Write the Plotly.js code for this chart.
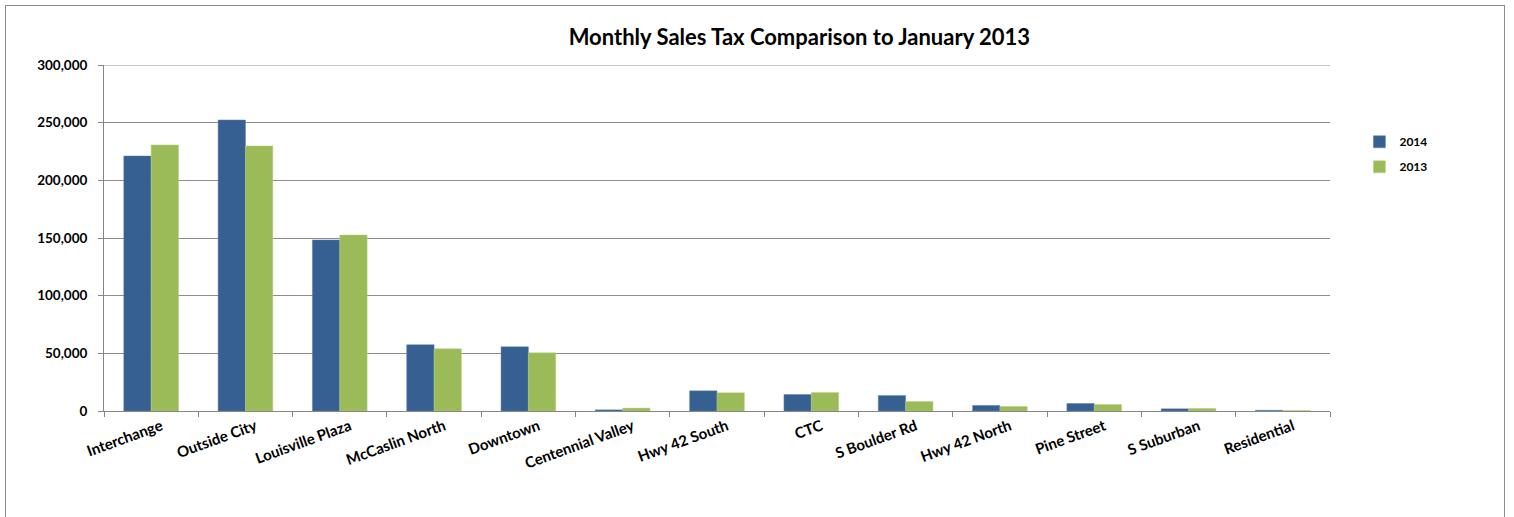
<!DOCTYPE html>
<html>
<head>
<meta charset="utf-8">
<script src="https://cdn.plot.ly/plotly-3.0.1.min.js"></script>
<style>
html,body{margin:0;padding:0;background:#fff;}
#wrap{position:relative;width:1514px;height:517px;overflow:hidden;}
#frame{position:absolute;left:5px;top:5px;width:1498px;height:530px;border:1px solid #8c8c8c;pointer-events:none;}
#chart{position:absolute;left:0;top:0;width:1514px;height:517px;}
</style>
</head>
<body>
<div id="wrap"><div id="chart"></div><div id="frame"></div></div>
<script>
var categories = ["Interchange","Outside City","Louisville Plaza","McCaslin North","Downtown","Centennial Valley","Hwy 42 South","CTC","S Boulder Rd","Hwy 42 North","Pine Street","S Suburban","Residential"];
var sales2014 = [221100, 252300, 148300, 57400, 55600, 1000, 17500, 14300, 13400, 4800, 6500, 1900, 600];
var sales2013 = [230600, 229800, 152600, 54000, 50400, 2500, 15800, 16000, 8200, 3900, 5600, 2200, 400];
var yTicks = [0, 50000, 100000, 150000, 200000, 250000, 300000];
var yTickLabels = ["0","50,000","100,000","150,000","200,000","250,000","300,000"];

var fontFam = "Lato, 'Open Sans', sans-serif";
var traces = [
  {type:"bar", name:"2014", legendgroup:"a", x:categories, y:sales2014, marker:{color:"#376092", line:{color:"#5b7fae", width:0.5}}},
  {type:"bar", name:"2013", legendgroup:"b", x:categories, y:sales2013, marker:{color:"#9bbb59", line:{color:"#b5d07f", width:0.5}}}
];
var yMax = yTicks[yTicks.length-1];
var layout = {
  width:1514, height:517,
  margin:{l:104, r:184, t:65, b:106, pad:0},
  paper_bgcolor:"rgba(0,0,0,0)", plot_bgcolor:"#fff",
  barmode:"group", bargap:0.42, bargroupgap:0,
  title:{text:"<b>Monthly Sales Tax Comparison to January 2013</b>", x:0.528, xanchor:"center", y:0.927, yanchor:"middle", font:{family:fontFam, size:22, color:"#000"}},
  xaxis:{type:"category", tickangle:-20, tickfont:{family:fontFam, size:15, color:"#000", weight:"bold"},
    showline:true, linecolor:"#868686", linewidth:1, ticks:"outside", tickson:"boundaries", ticklen:5, tickcolor:"#868686",
    ticklabelshift:10, showgrid:false, automargin:false, fixedrange:true},
  yaxis:{range:[0,yMax], tickvals:yTicks, ticktext:yTickLabels, tickfont:{family:fontFam, size:13.5, color:"#000", weight:"bold"},
    showline:true, linecolor:"#868686", linewidth:1, ticks:"outside", ticklen:5, tickcolor:"#868686",
    showgrid:true, gridcolor:"#8c8c8c", gridwidth:1, zeroline:false, automargin:false, fixedrange:true, ticklabelstandoff:8},
  shapes:[{type:"line", xref:"paper", yref:"y", x0:0, x1:1, y0:yMax, y1:yMax, line:{color:"#8c8c8c", width:1}, layer:"below"}],
  legend:{x:1.024, y:0.82, xanchor:"left", yanchor:"top", font:{family:fontFam, size:12, color:"#000", weight:"bold"}, tracegroupgap:6, itemwidth:30, bgcolor:"rgba(0,0,0,0)"},
  showlegend:true
};
Plotly.newPlot("chart", traces, layout, {displayModeBar:false, staticPlot:true});
</script>
</body>
</html>
